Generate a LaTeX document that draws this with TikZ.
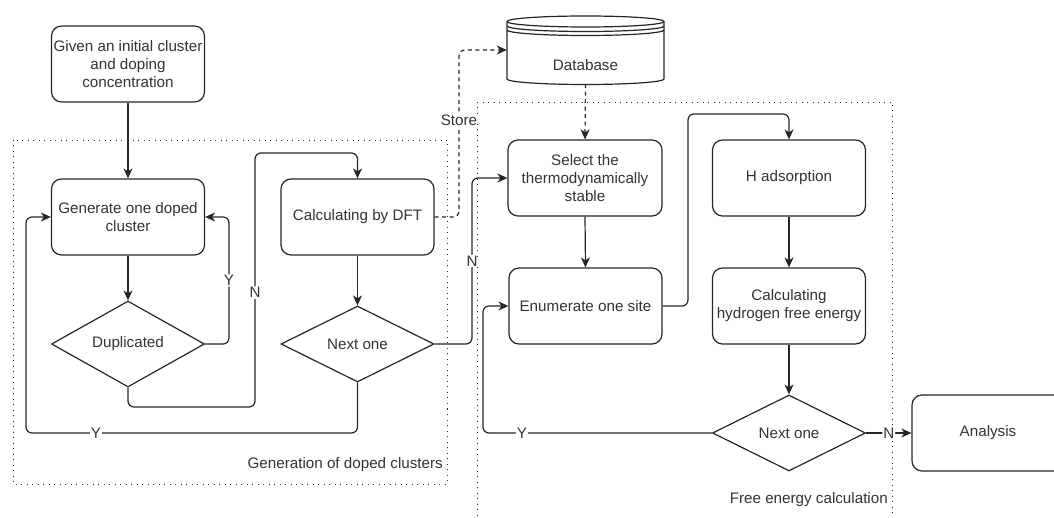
\documentclass[tikz,border=0pt]{standalone}
\usepackage{fontspec}
\setmainfont{Liberation Sans}
\usetikzlibrary{shapes.geometric,arrows.meta,calc}
\definecolor{ink}{HTML}{262626}
\definecolor{txt}{HTML}{333333}
\begin{document}
\begin{tikzpicture}[x=1pt,y=-1pt,
  font=\fontsize{15.2}{18}\selectfont, text=txt,
  every node/.style={inner sep=0pt},
  procbox/.style={draw=ink, line width=1.2pt, rounded corners=10pt, minimum width=153pt, minimum height=76pt, align=center},
  decis/.style={draw=ink, line width=1.2pt, diamond, minimum width=153pt, minimum height=76pt, inner sep=0pt, align=center},
  conn/.style={draw=ink, line width=1.2pt, rounded corners=6pt, -{Stealth[length=10pt,width=9pt,inset=3pt]}},
  dconn/.style={conn, dash pattern=on 4pt off 3.5pt},
  lab/.style={fill=white, inner sep=1pt},
  group/.style={draw=ink, line width=0.9pt, dash pattern=on 1pt off 4.5pt},
  cyl/.style={draw=ink, line width=1.2pt}
]
\useasboundingbox (0,0) rectangle (1054,518);
\clip (0,0) rectangle (1054,518);

% groups
\draw[group] (13,140) rectangle (447,484);
\draw[group] (477,102) -- (477,540);
\draw[group] (477,102) -- (892,102) -- (892,540);
\node[anchor=east] (glab) at (443,465) {Generation of doped clusters};
\node[anchor=east] (flab) at (888,500) {Free energy calculation};

% nodes
\node[procbox] (given) at (128,64) {Given an initial cluster\\and doping\\concentration};
\node[procbox] (gen) at (128,217) {Generate one doped\\cluster};
\node[decis] (dup) at (128,344) {Duplicated};
\node[procbox] (dft) at (357.5,217) {Calculating by DFT};
\node[decis] (next1) at (357.5,344) {Next one};

% database cylinder
\node[minimum width=157pt, minimum height=68pt] (db) at (585.5,50) {};
\draw[cyl, fill=white]
  (507,21.5) -- (507,79) arc[start angle=180, end angle=0, x radius=78.5, y radius=5.5]
  -- (664,21.5) arc[start angle=0, end angle=-180, x radius=78.5, y radius=5.5];
\draw[cyl] (507,21.5) arc[start angle=180, end angle=0, x radius=78.5, y radius=5.5];
\draw[cyl] (507,26) arc[start angle=180, end angle=0, x radius=78.5, y radius=5.5];
\draw[cyl] (507,30) arc[start angle=180, end angle=0, x radius=78.5, y radius=5.5];
\node (dbtext) at (585.5,65) {Database};

\node[procbox, minimum width=154pt] (sel) at (585,178) {Select the\\thermodynamically\\stable};
\node[procbox] (enum) at (585.5,306) {Enumerate one site};
\node[procbox] (had) at (789,178) {H adsorption};
\node[procbox] (calc) at (789,306) {Calculating\\hydrogen free energy};
\node[decis] (next2) at (789,433) {Next one};
\node[procbox, minimum width=152pt] (ana) at (988,433) {Analysis};

% connectors
\draw[conn] (given.south) -- (gen.north);
\draw[conn] (gen.south) -- (dup.north);
\draw[conn] (dup.east) -- (229,344) |- node[lab, pos=0.25] {Y} (gen.east);
\draw[conn] (dup.south) |- (255,407) -- node[lab, pos=0.45] {N} (255,153) -| (dft.north);
\draw[conn] (dft.south) -- (next1.north);
\draw[conn] (next1.south) |- (26,433) -- (26,217) -- (gen.west);
\node[lab] (ylab) at (96,433) {Y};
\draw[conn] (next1.east) -- (472,344) |- node[lab, pos=0.25] {N} (sel.west);
\draw[dconn] (dft.east) -- (459,217) |- node[lab, pos=0.29] {Store} (db.west);
\draw[dconn] (db.south) -- (sel.north);
\draw[conn] (sel.south) -- (enum.north);
\draw[conn] (enum.east) -- (688,306) |- (789,114) -- (had.north);
\draw[conn] (had.south) -- (calc.north);
\draw[conn] (calc.south) -- (next2.north);
\draw[conn] (next2.west) -- node[lab, pos=0.83] {Y} (483,433) |- (enum.west);
\draw[conn] (next2.east) -- node[lab, pos=0.5] {N} (ana.west);
\end{tikzpicture}
\end{document}
